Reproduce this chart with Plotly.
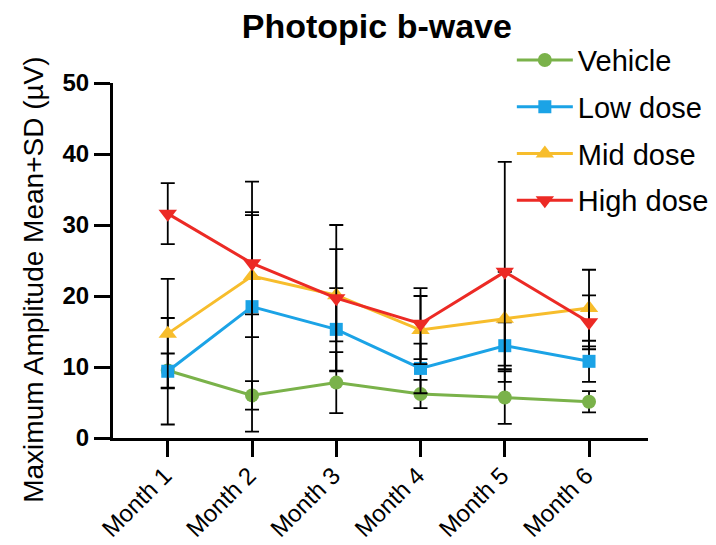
import plotly.graph_objects as go

months = ["Month 1", "Month 2", "Month 3", "Month 4", "Month 5", "Month 6"]

vehicle_mean = [9.5, 6.0, 7.8, 6.2, 5.7, 5.1]
vehicle_sd = [2.4, 2.0, 4.3, 2.0, 3.7, 1.5]
low_mean = [9.4, 18.5, 15.3, 9.8, 13.0, 10.8]
low_sd = [7.5, 17.6, 5.8, 3.5, 3.3, 2.9]
mid_mean = [14.7, 22.8, 20.1, 15.2, 16.8, 18.3]
mid_sd = [7.7, 8.6, 6.5, 4.8, 6.6, 5.4]
high_mean = [31.6, 24.6, 19.7, 16.1, 23.4, 16.3]
high_sd = [4.3, 7.2, 10.3, 5.0, 15.5, 3.8]

series = [
    ("Vehicle", vehicle_mean, vehicle_sd, "#7AB24A", "circle", 14),
    ("Low dose", low_mean, low_sd, "#1BA3E6", "square", 13),
    ("Mid dose", mid_mean, mid_sd, "#F7BD2C", "triangle-up", 16),
    ("High dose", high_mean, high_sd, "#EC2A25", "triangle-down", 16),
]

FONT = "Liberation Sans, Arial, sans-serif"

fig = go.Figure()
for i, (name, m, sd, col, sym, sz) in enumerate(series):
    fig.add_trace(go.Scatter(
        x=months, y=m, name=name, mode="lines+markers",
        legendgroup=name,
        line=dict(color=col, width=3),
        marker=dict(color=col, symbol=sym, size=sz, line=dict(width=0)),
        error_y=dict(type="data", array=sd, visible=True, color="black",
                     thickness=1.8, width=7),
    ))

fig.update_layout(
    width=708, height=537,
    margin=dict(l=105, r=68, t=75, b=107, autoexpand=False),
    plot_bgcolor="white", paper_bgcolor="white",
    font=dict(family=FONT, color="black"),
    title=dict(text="<b>Photopic b-wave</b>", x=0.521, xanchor="center",
               y=0.988, yanchor="top", automargin=False,
               font=dict(size=34, family=FONT, color="black")),
    showlegend=True,
    legend=dict(x=0.7455, xanchor="left", y=1.136, yanchor="top",
                font=dict(size=29, family=FONT, color="black"),
                bgcolor="rgba(0,0,0,0)", itemwidth=56, tracegroupgap=6),
    xaxis=dict(range=[-0.65, 5.7], showline=True, linewidth=3, linecolor="black",
               ticks="outside", ticklen=16, tickwidth=3, tickcolor="black",
               tickangle=-45, tickfont=dict(size=24, family=FONT, color="black"),
               ticklabelstandoff=-5, ticklabelshift=-3,
               showgrid=False, zeroline=False, automargin=False),
    yaxis=dict(range=[0, 50], dtick=10, showline=True, linewidth=3, linecolor="black",
               ticks="outside", ticklen=16, tickwidth=3, tickcolor="black",
               tickfont=dict(size=24, family=FONT, color="black"),
               tickprefix="<b>", ticksuffix="</b>",
               showgrid=False, zeroline=False, automargin=False),
    annotations=[dict(text="Maximum Amplitude Mean+SD (µV)", textangle=-90,
                      xref="paper", yref="paper", x=-0.15, y=0.445,
                      xanchor="center", yanchor="middle", showarrow=False,
                      font=dict(size=28, family=FONT, color="black"))],
)

fig.write_html("out.html")
